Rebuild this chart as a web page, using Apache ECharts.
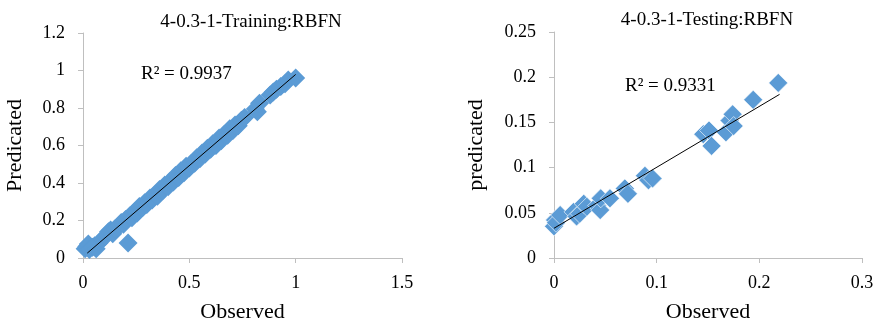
<!DOCTYPE html>
<html>
<head>
<meta charset="utf-8">
<script src="https://cdn.jsdelivr.net/npm/echarts@6/dist/echarts.min.js"></script>
<style>
  html, body { margin: 0; padding: 0; background: #fff; }
  #chart { width: 881px; height: 328px; }
</style>
</head>
<body>
<div id="chart"></div>
<script>
// training set: observed vs predicted
const trainObs = [0.010, 0.018, 0.025, 0.030, 0.045, 0.055, 0.062, 0.075, 0.090, 0.105,
  0.120, 0.130, 0.140, 0.150, 0.165, 0.180, 0.190, 0.200, 0.212, 0.220,
  0.230, 0.245, 0.255, 0.265, 0.280, 0.290, 0.300, 0.315, 0.325, 0.340,
  0.350, 0.360, 0.375, 0.385, 0.400, 0.410, 0.425, 0.435, 0.450, 0.460,
  0.475, 0.485, 0.500, 0.510, 0.525, 0.535, 0.550, 0.560, 0.575, 0.585,
  0.600, 0.610, 0.625, 0.640, 0.650, 0.665, 0.680, 0.690, 0.705, 0.715,
  0.730, 0.745, 0.760, 0.810, 0.820, 0.830, 0.880, 0.895, 0.910, 0.930,
  0.950, 0.965, 1.000];
const trainPred = [0.050, 0.062, 0.075, 0.045, 0.058, 0.065, 0.050, 0.080, 0.100, 0.115,
  0.140, 0.150, 0.130, 0.155, 0.165, 0.190, 0.180, 0.205, 0.080, 0.225,
  0.215, 0.250, 0.240, 0.275, 0.270, 0.295, 0.285, 0.320, 0.310, 0.340,
  0.330, 0.365, 0.360, 0.390, 0.380, 0.410, 0.405, 0.440, 0.430, 0.465,
  0.455, 0.490, 0.480, 0.505, 0.505, 0.535, 0.530, 0.560, 0.555, 0.585,
  0.580, 0.610, 0.600, 0.640, 0.625, 0.660, 0.655, 0.690, 0.680, 0.710,
  0.705, 0.735, 0.750, 0.795, 0.780, 0.825, 0.870, 0.885, 0.900, 0.915,
  0.930, 0.950, 0.960];
const trainTrend = [[0.02, 0.026], [1.0, 0.979]];
const trainR2 = 'R² = 0.9937';

// testing set
const testObs = [0.000, 0.001, 0.002, 0.006, 0.019, 0.022, 0.025, 0.029, 0.032, 0.042,
  0.045, 0.0455, 0.0545, 0.069, 0.072, 0.0886, 0.092, 0.096, 0.1454, 0.151,
  0.1535, 0.1675, 0.171, 0.174, 0.175, 0.194, 0.2184];
const testPred = [0.035, 0.042, 0.039, 0.0475, 0.051, 0.046, 0.049, 0.060, 0.0567, 0.058,
  0.053, 0.066, 0.066, 0.077, 0.071, 0.091, 0.086, 0.088, 0.137, 0.141,
  0.124, 0.139, 0.152, 0.159, 0.146, 0.175, 0.1937];
const testTrend = [[0.0, 0.0329], [0.2197, 0.181]];
const testR2 = 'R² = 0.9331';

const titles = ['4-0.3-1-Training:RBFN', '4-0.3-1-Testing:RBFN'];
const xNames = ['Observed', 'Observed'];
const yNames = ['Predicated', 'predicated'];

const FONT = 'Liberation Serif, Times New Roman, serif';
const TXT = '#000';
const AXIS = '#bfbfbf';
const BLUE = '#5b9bd5';

const pair = (xs, ys) => xs.map((x, i) => [x, ys[i]]);

function axisCommon(labelMargin) {
  return {
    axisLine: { show: true, lineStyle: { color: AXIS, width: 1 } },
    axisTick: { show: true, inside: false, length: 5, lineStyle: { color: AXIS } },
    splitLine: { show: false },
    axisLabel: { color: TXT, fontFamily: FONT, fontSize: 18, margin: labelMargin },
    nameTextStyle: { color: TXT, fontFamily: FONT, fontSize: 22 },
    nameLocation: 'middle'
  };
}

const chart = echarts.init(document.getElementById('chart'));

const option = {
  animation: false,
  backgroundColor: '#fff',
  title: [
    { text: titles[0], left: 246, top: 8, textAlign: 'center',
      textStyle: { fontFamily: FONT, fontSize: 19, fontWeight: 'normal', color: TXT } },
    { text: titles[1], left: 702, top: 6, textAlign: 'center',
      textStyle: { fontFamily: FONT, fontSize: 19, fontWeight: 'normal', color: TXT } },
    { text: trainR2, left: 136, top: 60,
      textStyle: { fontFamily: FONT, fontSize: 19, fontWeight: 'normal', color: TXT } },
    { text: testR2, left: 620, top: 72,
      textStyle: { fontFamily: FONT, fontSize: 19, fontWeight: 'normal', color: TXT } }
  ],
  grid: [
    { left: 83, top: 33, width: 319, height: 227 },
    { left: 554, top: 32, width: 308, height: 228 }
  ],
  xAxis: [
    Object.assign(axisCommon(16), { gridIndex: 0, type: 'value', min: 0, max: 1.5, interval: 0.5,
      name: xNames[0], nameGap: 43 }),
    Object.assign(axisCommon(16), { gridIndex: 1, type: 'value', min: 0, max: 0.3, interval: 0.1,
      name: xNames[1], nameGap: 43 })
  ],
  yAxis: [
    Object.assign(axisCommon(18), { gridIndex: 0, type: 'value', min: 0, max: 1.2, interval: 0.2,
      name: yNames[0], nameGap: 57 }),
    Object.assign(axisCommon(18), { gridIndex: 1, type: 'value', min: 0, max: 0.25, interval: 0.05,
      name: yNames[1], nameGap: 67 })
  ],
  series: [
    {
      type: 'scatter', xAxisIndex: 0, yAxisIndex: 0,
      symbol: 'diamond', symbolSize: 19,
      itemStyle: { color: BLUE, opacity: 1 },
      data: pair(trainObs, trainPred)
    },
    {
      type: 'line', xAxisIndex: 0, yAxisIndex: 0, z: 5,
      symbol: 'none', silent: true,
      lineStyle: { color: '#000', width: 1 },
      data: trainTrend
    },
    {
      type: 'scatter', xAxisIndex: 1, yAxisIndex: 1,
      symbol: 'diamond', symbolSize: 19,
      itemStyle: { color: BLUE, opacity: 1, borderColor: '#fff', borderWidth: 0.6 },
      data: pair(testObs, testPred)
    },
    {
      type: 'line', xAxisIndex: 1, yAxisIndex: 1, z: 5,
      symbol: 'none', silent: true,
      lineStyle: { color: '#000', width: 1 },
      data: testTrend
    }
  ]
};

chart.setOption(option);
</script>
</body>
</html>
